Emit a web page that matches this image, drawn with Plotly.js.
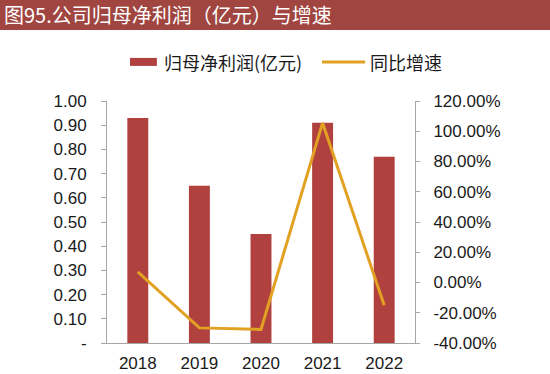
<!DOCTYPE html>
<html>
<head>
<meta charset="utf-8">
<script src="https://cdn.plot.ly/plotly-3.0.1.min.js"></script>
<style>html,body{margin:0;padding:0;background:#fff;}#chart{width:550px;height:374px;}</style>
</head>
<body>
<div id="chart"></div>
<script>
var years = ['2018', '2019', '2020', '2021', '2022'];
var netProfit = [0.93, 0.65, 0.45, 0.91, 0.77];
var growthPct = [7.0, -30.0, -31.0, 105.5, -15.0];
var leftTickVals = [0, 0.1, 0.2, 0.3, 0.4, 0.5, 0.6, 0.7, 0.8, 0.9, 1.0];
var leftTickText = ['-', '0.10', '0.20', '0.30', '0.40', '0.50', '0.60', '0.70', '0.80', '0.90', '1.00'];
var rightTickVals = [-40, -20, 0, 20, 40, 60, 80, 100, 120];
var rightTickText = ['-40.00%', '-20.00%', '0.00%', '20.00%', '40.00%', '60.00%', '80.00%', '100.00%', '120.00%'];
var titleText = '图95.公司归母净利润（亿元）与增速';
var seriesNames = ['归母净利润(亿元)', '同比增速'];

var barColor = '#B0413F';
var lineColor = '#E2A122';
var cjk = '"Noto Sans CJK SC", sans-serif';
var num = '"Liberation Sans", Arial, sans-serif';

var traces = [
  {type: 'bar', x: years, y: netProfit, name: seriesNames[0], marker: {color: barColor}, width: 0.34, yaxis: 'y', showlegend: false},
  {type: 'scatter', mode: 'lines', x: years, y: growthPct, name: seriesNames[1], line: {color: lineColor, width: 3}, yaxis: 'y2', showlegend: false}
];

var layout = {
  width: 550, height: 374,
  margin: {l: 107, r: 135, t: 101, b: 31, pad: 0},
  paper_bgcolor: '#fff', plot_bgcolor: '#fff',
  xaxis: {type: 'category', range: [-0.5, 4.5], showline: true, linecolor: '#a6a6a6', linewidth: 1, ticks: '', showgrid: false,
          tickfont: {family: num, size: 17, color: '#1a1a1a'}, ticklabelstandoff: 5},
  yaxis: {range: [0, 1], tickvals: leftTickVals, ticktext: leftTickText, showline: true, linecolor: '#a6a6a6', linewidth: 1,
          ticks: 'outside', ticklen: 5, tickcolor: '#a6a6a6', showgrid: false, zeroline: false,
          tickfont: {family: num, size: 17, color: '#1a1a1a'}, ticklabelstandoff: 11},
  yaxis2: {range: [-40, 120], overlaying: 'y', side: 'right', tickvals: rightTickVals, ticktext: rightTickText,
           showline: true, linecolor: '#a6a6a6', linewidth: 1, ticks: 'outside', ticklen: 4, tickcolor: '#a6a6a6',
           showgrid: false, zeroline: false, tickfont: {family: num, size: 17, color: '#1a1a1a'}, ticklabelstandoff: 10},
  shapes: [
    {type: 'rect', xref: 'paper', yref: 'paper', x0: -0.36, x1: 1.45, y0: 1.293, y1: 1.43, fillcolor: '#A0453F', line: {width: 0}, layer: 'below'},
    {type: 'rect', xref: 'paper', yref: 'paper', x0: 0.0747, x1: 0.162, y0: 1.145, y1: 1.178, fillcolor: barColor, line: {width: 0}},
    {type: 'line', xref: 'paper', yref: 'paper', x0: 0.698, x1: 0.838, y0: 1.161, y1: 1.161, line: {color: lineColor, width: 3}}
  ],
  annotations: [
    {xref: 'paper', yref: 'paper', x: -0.342, y: 1.357, xanchor: 'left', yanchor: 'middle', showarrow: false,
     text: titleText, font: {family: cjk, size: 20, color: '#fff'}},
    {xref: 'paper', yref: 'paper', x: 0.179, y: 1.161, xanchor: 'left', yanchor: 'middle', showarrow: false,
     text: seriesNames[0], font: {family: cjk, size: 18, color: '#1a1a1a'}},
    {xref: 'paper', yref: 'paper', x: 0.847, y: 1.161, xanchor: 'left', yanchor: 'middle', showarrow: false,
     text: seriesNames[1], font: {family: cjk, size: 18, color: '#1a1a1a'}}
  ],
  bargap: 0.66
};

Plotly.newPlot('chart', traces, layout, {staticPlot: true, displayModeBar: false});
</script>
</body>
</html>
